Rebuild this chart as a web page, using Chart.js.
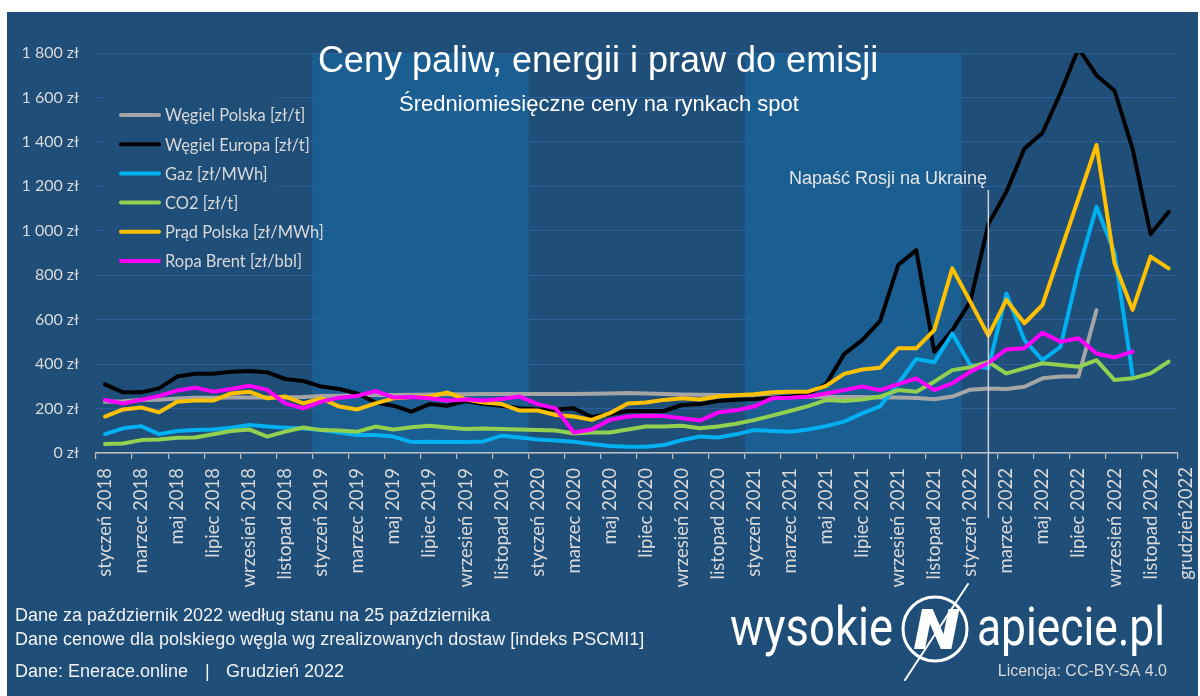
<!DOCTYPE html>
<html><head><meta charset="utf-8">
<script src="https://cdn.jsdelivr.net/npm/chart.js@4.4.1/dist/chart.umd.min.js"></script>
<style>html,body{margin:0;padding:0;background:#fff;overflow:hidden}canvas{display:block}</style>
</head><body><canvas id="c" width="1200" height="696"></canvas>
<script>
// ---------- DATA ----------
const monthNames = ['styczeń','luty','marzec','kwiecień','maj','czerwiec','lipiec','sierpień','wrzesień','październik','listopad','grudzień'];
const years = [2018, 2019, 2020, 2021, 2022];
const categories = [];
years.forEach(y => monthNames.forEach(m => categories.push(m + ' ' + y)));
const endLabel = 'grudzień2022';
const shadedYears = [2019, 2021];
const eventMonth = 'luty 2022';
const eventText = 'Napaść Rosji na Ukrainę';

const wegielPolska = [231,233,238,240,245,249,249,250,250,250,250,252,
  256,258,260,261,261,262,263,264,264,265,265,265,
  266,266,266,267,268,270,268,265,263,262,261,260,
  256,254,253,253,252,252,252,250,250,248,242,254,
  285,290,288,298,336,344,344,643,null,null,null,null];
const wegielEuropa = [309,273,273,291,344,357,357,366,369,363,333,324,
  299,288,268,227,213,186,220,213,234,220,213,201,
  196,196,201,162,174,189,189,189,216,220,234,240,
  243,249,254,265,310,445,508,595,846,913,456,553,
  681,1030,1175,1370,1440,1620,1820,1700,1630,1370,985,1085];
const gaz = [85,111,121,85,99,103,106,114,126,119,114,110,
  103,92,81,81,74,49,51,50,50,52,78,70,
  61,56,51,40,31,28,28,36,58,74,70,84,
  103,99,96,106,121,141,178,211,313,423,408,538,
  396,381,718,508,418,478,823,1108,900,351,null,null];
const co2 = [40,43,58,61,69,70,84,99,106,74,96,115,
  103,101,96,119,106,116,123,115,108,110,108,106,
  103,101,88,92,92,106,119,119,123,111,119,132,
  148,168,189,211,238,234,241,254,283,276,321,373,
  386,410,358,381,404,396,388,418,328,336,358,411];
const pradPolska = [164,196,205,183,231,236,236,268,276,246,254,223,
  246,209,196,223,246,252,254,272,241,227,220,191,
  191,171,164,149,179,223,227,239,246,241,254,260,
  264,273,276,276,302,356,376,384,471,471,553,831,
  681,528,689,584,666,906,1146,1386,854,644,884,831];
const ropaBrent = [239,223,239,257,281,294,276,288,303,284,223,201,
  231,249,257,279,250,252,246,236,241,236,243,254,
  220,201,92,106,149,164,168,166,156,146,182,192,
  209,246,249,254,268,283,299,283,310,336,283,313,
  366,405,466,471,541,501,516,448,430,456,null,null];

const seriesNames = ['Węgiel Polska [zł/t]','Węgiel Europa [zł/t]','Gaz [zł/MWh]','CO2 [zł/t]','Prąd Polska [zł/MWh]','Ropa Brent [zł/bbl]'];
const seriesValues = [wegielPolska, wegielEuropa, gaz, co2, pradPolska, ropaBrent];
const seriesColors = ['#a5a5a5','#000000','#00b0f0','#92d050','#ffc000','#ff00ff'];

const yMin = 0, yMax = 1800, yStep = 200;

const titleText = 'Ceny paliw, energii i praw do emisji';
const subtitleText = 'Średniomiesięczne ceny na rynkach spot';
const footerLines = ['Dane za październik 2022 według stanu na 25 października',
  'Dane cenowe dla polskiego węgla wg zrealizowanych dostaw [indeks PSCMI1]'];
const sourceText = 'Dane: Enerace.online', sepText = '|', dateText = 'Grudzień 2022';
const licenseText = 'Licencja: CC-BY-SA 4.0';

// ---------- STYLE ----------
const BG = '#1f4e79', BAND = '#1b5e91', GRID = '#2c5e9b', LBL = '#d9d9d9';
const XFONT = { family: 'Lato', size: 18.5 };

function fmtZl(v) {
  const s = v >= 1000 ? Math.floor(v/1000) + ' ' + String(v % 1000).padStart(3,'0') : String(v);
  return s + ' zł';
}

function fitText(ctx, txt, x, y, w) {
  const m = ctx.measureText(txt).width;
  ctx.save(); ctx.translate(x, y); ctx.scale(w / m, 1); ctx.textAlign = 'left'; ctx.fillText(txt, 0, 0); ctx.restore();
}

const deco = {
  id: 'deco',
  beforeDraw(chart) {
    const { ctx, chartArea: a, scales: { x } } = chart;
    ctx.save();
    ctx.fillStyle = '#ffffff'; ctx.fillRect(0, 0, 1200, 696);
    ctx.fillStyle = BG; ctx.fillRect(7, 12, 1191, 684);
    const half = (x.getPixelForValue(1) - x.getPixelForValue(0)) / 2;
    ctx.fillStyle = BAND;
    shadedYears.forEach(yr => {
      const i0 = (yr - years[0]) * 12;
      const l = x.getPixelForValue(i0) - half, r = x.getPixelForValue(i0 + 11) + half;
      ctx.fillRect(l, a.top, r - l, a.bottom - a.top);
    });
    ctx.restore();
  },
  beforeDatasetsDraw(chart) {
    const { ctx } = chart;
    ctx.save();
    ctx.fillStyle = BG; ctx.fillRect(104, 90, 173, 180);
    ctx.restore();
  },
  afterDatasetsDraw(chart) {
    const { ctx, scales: { x } } = chart;
    const ex = x.getPixelForValue(categories.indexOf(eventMonth));
    ctx.save();
    ctx.strokeStyle = '#d0d0d0'; ctx.lineWidth = 1.5;
    ctx.beginPath(); ctx.moveTo(ex, 190); ctx.lineTo(ex, 518); ctx.stroke();
    ctx.restore();
  },
  afterDraw(chart) {
    const { ctx, scales: { x } } = chart;
    ctx.save();
    // title
    ctx.fillStyle = '#ffffff'; ctx.textAlign = 'center'; ctx.textBaseline = 'alphabetic';
    ctx.font = '36px "Liberation Sans"';
    ctx.fillText(titleText, 598, 72);
    ctx.font = '22px "Liberation Sans"';
    ctx.fillText(subtitleText, 599, 111);
    // event annotation
    ctx.fillStyle = '#e6e6e6'; ctx.font = '18px "Liberation Sans"';
    ctx.fillText(eventText, 888, 184);
    // legend
    ctx.textAlign = 'left'; ctx.textBaseline = 'middle';
    ctx.font = '16.5px Lato';
    seriesNames.forEach((n, i) => {
      const yy = 115 + i * 29.2;
      ctx.strokeStyle = seriesColors[i]; ctx.lineWidth = 4; ctx.lineCap = 'round';
      ctx.beginPath(); ctx.moveTo(121, yy); ctx.lineTo(159, yy); ctx.stroke();
      ctx.fillStyle = LBL; ctx.fillText(n, 165, yy + 1);
    });
    // end label of x axis
    ctx.save();
    ctx.translate(x.right + 8, 467); ctx.rotate(-Math.PI / 2);
    ctx.textAlign = 'right'; ctx.textBaseline = 'middle'; ctx.fillStyle = LBL;
    ctx.font = XFONT.size + 'px ' + XFONT.family;
    ctx.fillText(endLabel, 0, 0);
    ctx.restore();
    // footer
    ctx.textBaseline = 'alphabetic'; ctx.textAlign = 'left';
    ctx.fillStyle = '#f2f2f2'; ctx.font = '18px "Liberation Sans"';
    ctx.fillText(footerLines[0], 15, 621);
    ctx.fillText(footerLines[1], 15, 645);
    ctx.fillText(sourceText, 15, 677);
    ctx.fillText(sepText, 205, 677);
    ctx.fillText(dateText, 226, 677);
    // logo
    ctx.fillStyle = '#ffffff';
    ctx.font = '400 54px Roboto';
    fitText(ctx, 'wysokie', 730, 645, 163);
    fitText(ctx, 'apiecie.pl', 977, 645, 188);
    ctx.strokeStyle = '#ffffff'; ctx.lineWidth = 3;
    ctx.beginPath(); ctx.arc(935, 629, 32, 0, Math.PI * 2); ctx.stroke();
    ctx.font = 'italic 900 56px Roboto';
    fitText(ctx, 'N', 914, 649, 44);
    ctx.lineWidth = 2;
    ctx.beginPath(); ctx.moveTo(968, 584); ctx.lineTo(905, 680); ctx.stroke();
    ctx.fillStyle = '#d9d9d9'; ctx.font = '16px "Liberation Sans"'; ctx.textAlign = 'right';
    ctx.fillText(licenseText, 1167, 676);
    ctx.restore();
  }
};

new Chart(document.getElementById('c'), {
  type: 'line',
  data: {
    labels: categories,
    datasets: seriesValues.map((vals, i) => ({
      label: seriesNames[i],
      data: vals,
      borderColor: seriesColors[i],
      backgroundColor: seriesColors[i],
      order: seriesValues.length - i,
      fill: false
    }))
  },
  options: {
    responsive: false, animation: false, devicePixelRatio: 1,
    layout: { padding: { top: 53, left: 0, right: 22, bottom: 0 } },
    plugins: { legend: { display: false }, tooltip: { enabled: false }, title: { display: false } },
    elements: {
      point: { radius: 0, hoverRadius: 0 },
      line: { tension: 0, borderWidth: 4, borderJoinStyle: 'round', borderCapStyle: 'round' }
    },
    scales: {
      x: {
        type: 'category', offset: true,
        grid: {
          offset: true, drawOnChartArea: false, tickLength: 6, lineWidth: 1.2,
          color: c => (c.index === undefined || c.index % 2 === 0) ? '#bfbfbf' : 'rgba(0,0,0,0)'
        },
        border: { color: '#bfbfbf', width: 1.5 },
        ticks: {
          autoSkip: false, maxRotation: 90, minRotation: 90, padding: 9, color: LBL,
          font: XFONT,
          callback: (v, i) => i % 2 === 0 ? categories[i] : ''
        },
        afterFit: s => { s.height = 243; }
      },
      y: {
        min: yMin, max: yMax,
        ticks: { stepSize: yStep, padding: 17, color: LBL, font: { family: 'Lato', size: 16 }, callback: v => fmtZl(v) },
        grid: { color: GRID, drawTicks: false, lineWidth: 1 },
        border: { display: false },
        afterFit: s => { s.width = 96; }
      }
    }
  },
  plugins: [deco]
});
</script>
</body></html>
